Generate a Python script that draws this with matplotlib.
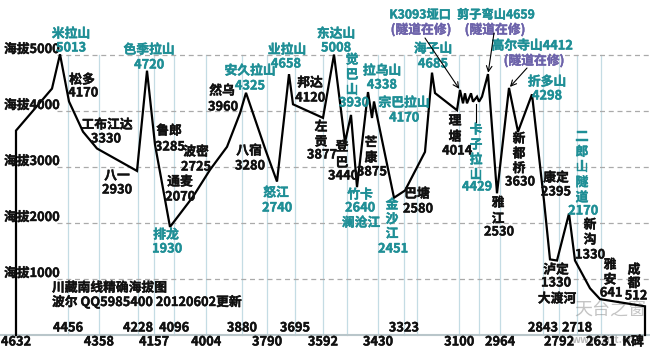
import matplotlib
matplotlib.use("Agg")
import matplotlib.pyplot as plt
import matplotlib.patheffects as pe

plt.rcParams['font.family'] = ['Noto Sans CJK SC', 'DejaVu Sans']

# ---------------- data ----------------
# route position (chart units, left -> right) and elevation (m)
route_pos = [16, 16, 52, 60, 69, 83, 97, 137, 147, 155, 170, 193, 210, 227, 240, 246,
             266, 277, 289, 293, 323, 334, 345, 351, 357, 368, 372, 374, 394, 405,
             425, 432, 435, 457, 460, 463, 465, 467, 471, 473, 477, 479, 482, 488,
             497, 509, 518, 532, 544, 550, 557, 569, 575, 590, 600, 645, 645]
route_elev = [0, 3650, 4400, 5013, 4170, 3630, 3330, 2930, 4720, 3400, 1930, 2470, 2950,
              3360, 3960, 4325, 3280, 2740, 4658, 4120, 3877, 5008, 3440, 3930, 2640,
              4338, 3875, 4170, 2451, 2580, 3270, 4685, 4320, 4014, 4375, 4137, 4316,
              4137, 4316, 4166, 4256, 4166, 4256, 4659, 2530, 4412, 3630, 4298, 2395,
              1350, 1330, 2170, 1330, 834, 641, 512, 0]

grid_levels = [1000, 2000, 3000, 4000, 5000]
grid_labels = ["海拔1000", "海拔2000", "海拔3000", "海拔4000", "海拔5000"]

km_low_pos = [16, 99, 154, 206, 267, 323, 378, 459, 500, 559, 601, 633]
km_low_lab = ["4632", "4358", "4157", "4004", "3790", "3592", "3430", "3100",
              "2964", "2792", "2631", "K碑"]
km_up_pos = [68, 138, 174, 242, 295, 404, 543, 577]
km_up_lab = ["4456", "4228", "4096", "3880", "3695", "3323", "2843", "2718"]
extra_vgrid = [347, 417, 479]

# ---------------- layout helpers ----------------
W, H = 650, 350
GROUND_PX = 335.0
PX_PER_M = 0.056

def P(px, py):
    return px, (GROUND_PX - py) / PX_PER_M

T = '#1f8f96'
K = '#111111'
PU = '#6c62aa'

fig = plt.figure(figsize=(W / 100, H / 100), dpi=100)
ax = fig.add_axes([0, 0, 1, 1])
ax.set_xlim(0, W)
ax.set_ylim((GROUND_PX - H) / PX_PER_M, GROUND_PX / PX_PER_M)
ax.axis('off')

# vertical light-blue grid lines
for x in km_low_pos[1:-1] + km_up_pos + extra_vgrid:
    ax.plot([x, x], [0, 5000], color='#c4dce4', lw=0.9, zorder=1)

# dashed horizontal grid lines
for lv in grid_levels:
    ax.plot([57, W], [lv, lv], color='#aaaaaa', lw=0.9, ls=(0, (4, 3)), zorder=1)

# ground line
ax.plot([0, W], [0, 0], color='#b9c6ca', lw=1.5, zorder=1)

# profile
ax.plot(route_pos, route_elev, color='black', lw=1.6, zorder=3, solid_joinstyle='miter')

FS = 9.2
def txt(s, px, py, color=K, ha='center', fs=FS):
    x, y = P(px, py)
    ax.text(x, y, s, color=color, ha=ha, va='center', fontsize=fs,
            fontweight='bold', zorder=4,
            path_effects=[pe.withStroke(linewidth=0.3, foreground=color)])

# y labels
for lv, lab in zip(grid_levels, grid_labels):
    ypx = GROUND_PX - lv * PX_PER_M
    txt(lab, 4, ypx - 5.5, ha='left')

# km labels
for x, lab in zip(km_low_pos, km_low_lab):
    txt(lab, x, 342)
for x, lab in zip(km_up_pos, km_up_lab):
    txt(lab, x, 328)

# title
txt("川藏南线精确海拔图", 52, 288, ha='left')
txt("波尔 QQ5985400 20120602更新", 52, 302, ha='left')

labels = [
    ("米拉山", 71, 34, T), ("5013", 71, 48, T),
    ("松多", 82, 80, K), ("4170", 83, 93, K),
    ("工布江达", 107, 125, K), ("3330", 106, 139, K),
    ("八一", 117, 176, K), ("2930", 117, 190, K),
    ("色季拉山", 149, 50, T), ("4720", 149, 65, T),
    ("鲁郎", 169, 131, K), ("3285", 170, 147, K),
    ("波密", 196, 152, K), ("2725", 196, 167, K),
    ("通麦", 180, 182, K), ("2070", 180, 197, K),
    ("排龙", 166, 235, T), ("1930", 167, 249, T),
    ("然乌", 222, 91, K), ("3960", 223, 107, K),
    ("安久拉山", 250, 71, T), ("4325", 250, 86, T),
    ("八宿", 249, 151, K), ("3280", 250, 166, K),
    ("怒江", 276, 193, T), ("2740", 277, 208, T),
    ("业拉山", 287, 50, T), ("4658", 286, 64, T),
    ("邦达", 310, 83, K), ("4120", 310, 98, K),
    ("东达山", 336, 34, T), ("5008", 336, 48, T),
    ("3930", 354, 103, T),
    ("3877", 322, 155, K),
    ("3440", 343, 176, K),
    ("拉乌山", 382, 71, T), ("4338", 382, 85, T),
    ("宗巴拉山", 404, 103, T), ("4170", 404, 118, T),
    ("3875", 372, 172, K),
    ("竹卡", 360, 195, T), ("2640", 360, 208, T), ("澜沧江", 361, 223, T),
    ("2451", 393, 249, T),
    ("巴塘", 417, 194, K), ("2580", 418, 209, K),
    ("海子山", 433, 49, T), ("4685", 433, 64, T),
    ("(隧道在修)", 421, 30, PU),
    ("(隧道在修)", 495, 30, PU),
    ("高尔寺山4412", 532, 46, T), ("(隧道在修)", 534, 61, PU),
    ("折多山", 547, 82, T), ("4298", 547, 96, T),
    ("4014", 457, 151, K),
    ("4429", 477, 187, T),
    ("2530", 499, 232, K),
    ("3630", 520, 182, K),
    ("康定", 556, 178, K), ("2395", 556, 192, K),
    ("2170", 583, 211, T),
    ("1330", 590, 255, K),
    ("泸定", 556, 270, K), ("1330", 556, 283, K), ("大渡河", 557, 299, K),
    ("641", 611, 293, K),
    ("512", 636, 296, K),
]
for s, x, y, c in labels:
    txt(s, x, y, c)
txt("K3093垭口", 420, 15, T, fs=8.8)
txt("剪子弯山4659", 496, 15, T, fs=8.8)

vlabels = [
    ("觉巴山", 352, 60, 15.0, T),
    ("左贡", 321, 127, 15.0, K),
    ("登巴", 342, 147, 16.0, K),
    ("芒康", 371, 143, 15.0, K),
    ("金沙江", 392, 205, 14.5, T),
    ("理塘", 455, 121, 16.0, K),
    ("卡子拉山", 476, 130, 15.0, T),
    ("雅江", 498, 203, 16.0, K),
    ("新都桥", 519, 139, 14.8, K),
    ("二郎山隧道", 582, 137, 15.2, T),
    ("新沟", 590, 225, 15.0, K),
    ("雅安", 610, 265, 15.0, K),
    ("成都", 634, 270, 13.5, K),
]
for s, x, y0, step, c in vlabels:
    for i, ch in enumerate(s):
        txt(ch, x, y0 + i * step, c)

# arrows from pass labels to the profile
def arrow(idx, fx, fy, style='->'):
    ax.annotate('', xy=(route_pos[idx], route_elev[idx]), xytext=P(fx, fy),
                arrowprops=dict(arrowstyle=style, color='black', lw=0.8,
                                shrinkA=0, shrinkB=1), zorder=4)

arrow(route_pos.index(460), 425, 38)
arrow(route_pos.index(488), 494, 33)
arrow(route_pos.index(509), 527, 68)
ax.plot(*zip(P(476, 104), P(476, 122)), color='black', lw=0.8, zorder=4)

# watermark
wx, wy = P(610, 311)
ax.text(wx, wy, "天台之窗", color='#8a8a8a', alpha=0.5, fontsize=13, ha='center',
        va='center', zorder=2)
wx, wy = P(603, 340)
ax.text(wx, wy, "www.zitt.cn", color='#666666', alpha=0.45, fontsize=7.5,
        fontweight='bold', ha='center', va='center', zorder=2)

fig.savefig("out.png", dpi=100)
